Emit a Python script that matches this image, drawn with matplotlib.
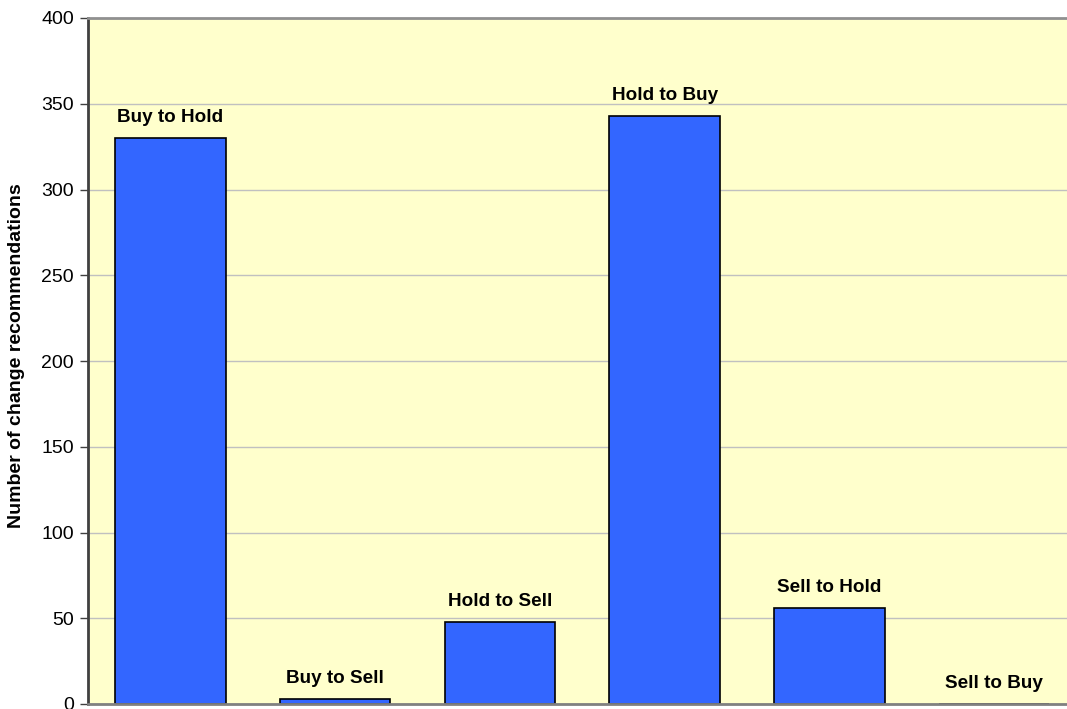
import matplotlib
matplotlib.use("Agg")
import matplotlib.pyplot as plt

categories = ["Buy to Hold", "Buy to Sell", "Hold to Sell", "Hold to Buy", "Sell to Hold", "Sell to Buy"]
values = [330, 3, 48, 343, 56, 0]
yticks = [0, 50, 100, 150, 200, 250, 300, 350, 400]

plt.rcParams['font.family'] = ['Liberation Sans', 'DejaVu Sans']

W, H = 1067, 709
fig = plt.figure(figsize=(W / 100, H / 100), dpi=100)
left, right_px, top, bottom = 88, 88 + 6 * 164.75, 18, 704
ax = fig.add_axes([left / W, (H - bottom) / H, (right_px - left) / W, (bottom - top) / H])
ax.set_facecolor('#FFFFCC')

x = list(range(len(categories)))
bars = ax.bar(x, values, width=0.67, color='#3366FF', edgecolor='black', linewidth=1.2, zorder=3)

for xi, v, lab in zip(x, values, categories):
    ax.annotate(lab, (xi, v), xytext=(0, 14.6), textcoords='offset points',
                ha='center', va='center', fontsize=13.6, fontweight='bold', zorder=4)

ax.set_xlim(-0.5, len(categories) - 0.5)
ax.set_ylim(0, 400)
ax.set_yticks(yticks)
ax.set_yticklabels([str(t) for t in yticks], fontsize=14)
ax.set_xticks([])
ax.yaxis.grid(True, color='#C0C0C0', linewidth=1, zorder=0)
ax.set_axisbelow(True)
ax.tick_params(axis='y', direction='out', length=6, width=1, color='#404040', pad=4)

ax.spines['left'].set_color('#404040')
ax.spines['left'].set_linewidth(2)
ax.spines['top'].set_color('#909090')
ax.spines['top'].set_linewidth(2)
ax.spines['bottom'].set_color('#808080')
ax.spines['bottom'].set_linewidth(2)
ax.spines['bottom'].set_zorder(5)
ax.spines['right'].set_visible(False)

fig.text(17 / W, 1 - 356 / H, "Number of change recommendations", rotation=90,
         ha='center', va='center', fontsize=14, fontweight='bold')

fig.savefig("out.png", dpi=100, facecolor='white')
